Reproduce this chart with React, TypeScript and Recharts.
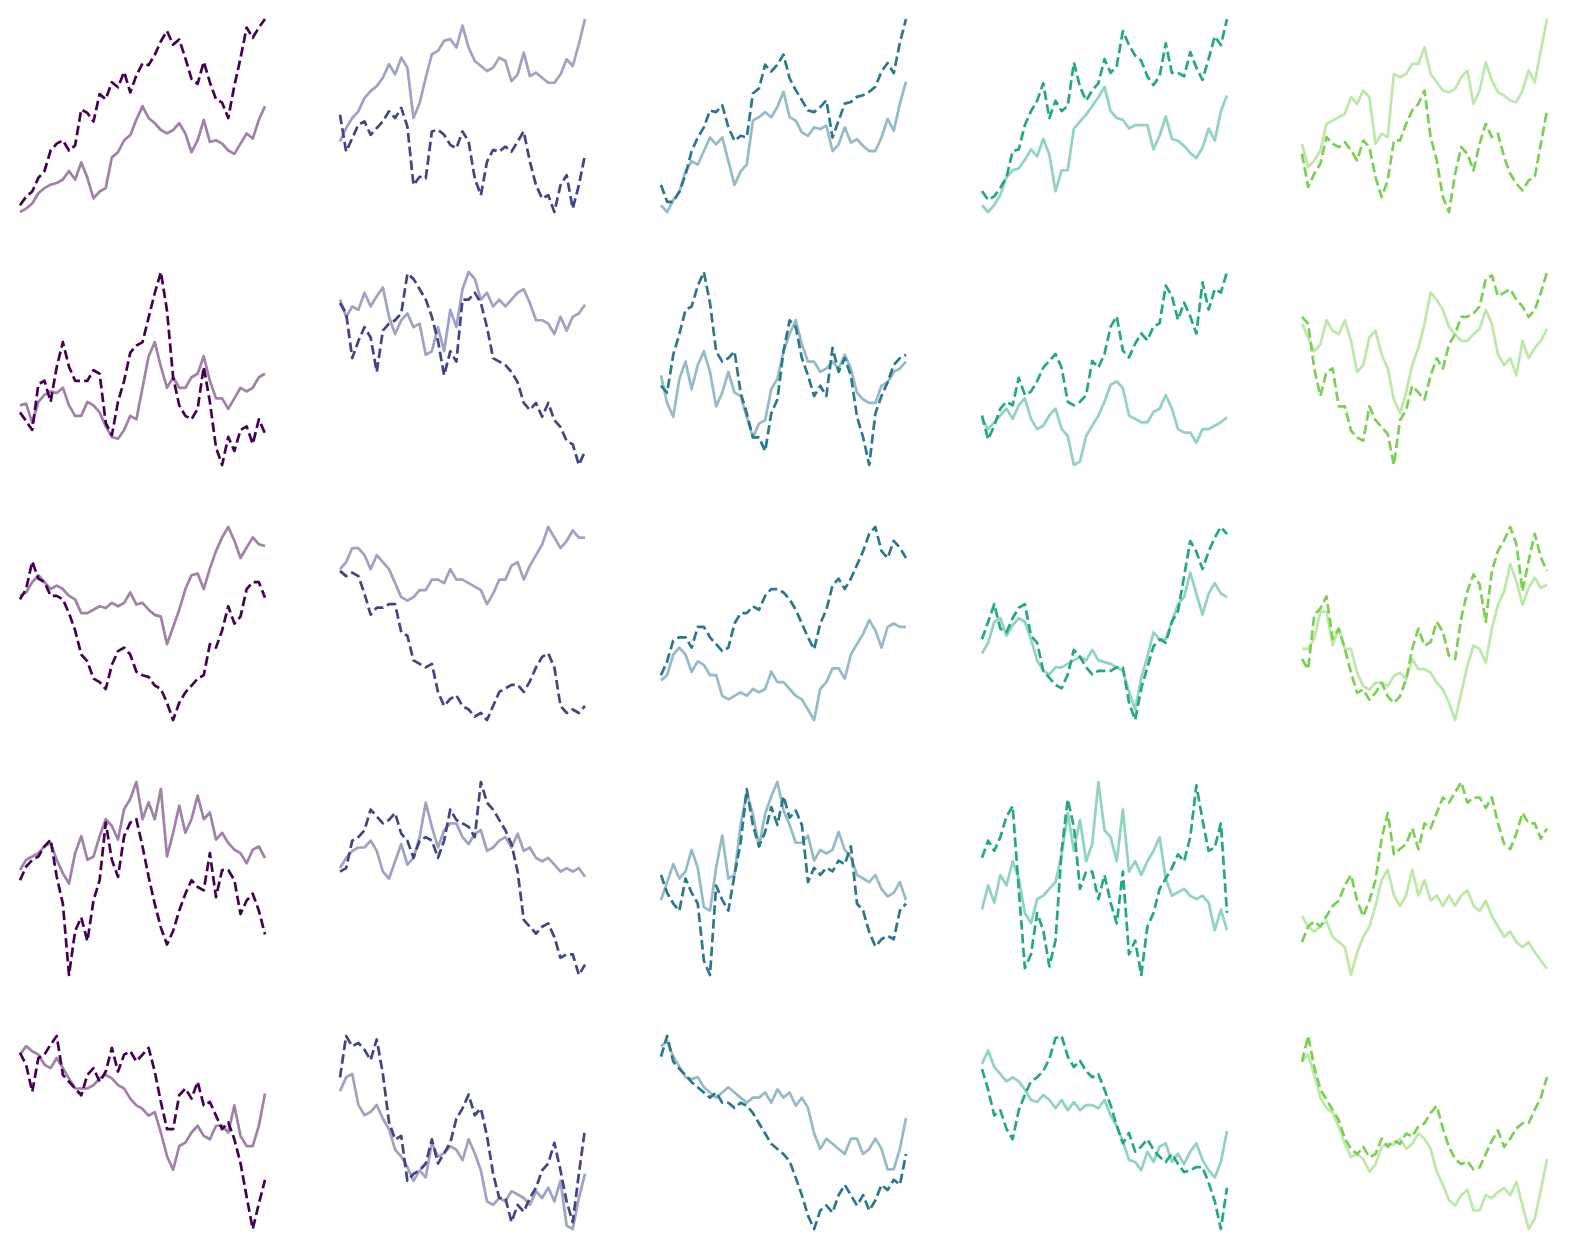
import React from 'react';
import { LineChart, Line, XAxis, YAxis } from 'recharts';

// ---- data: 5x5 panels, each with a solid (light) and dashed (dark) walk ----
const p11Solid = [40, 50, 65, 95, 110, 120, 125, 135, 160, 135, 185, 140, 80, 100, 110, 200, 215, 250, 265, 310, 350, 315, 300, 280, 270, 280, 300, 270, 215, 250, 310, 245, 250, 240, 220, 210, 240, 270, 255, 310, 350];
const p11Dashed = [60, 85, 100, 140, 160, 220, 240, 250, 220, 235, 340, 330, 305, 385, 370, 420, 405, 450, 390, 440, 475, 470, 500, 540, 570, 530, 545, 490, 430, 415, 480, 420, 370, 360, 315, 410, 490, 580, 550, 580, 605];
const p12Solid = [250, 290, 320, 340, 380, 400, 415, 440, 480, 450, 500, 470, 320, 365, 440, 510, 520, 550, 555, 530, 595, 530, 490, 475, 460, 470, 500, 490, 430, 450, 515, 445, 455, 440, 425, 425, 450, 495, 475, 540, 615];
const p12Dashed = [330, 220, 260, 300, 310, 270, 290, 310, 340, 320, 350, 295, 120, 145, 140, 280, 285, 270, 240, 230, 280, 250, 140, 90, 190, 225, 220, 235, 220, 250, 280, 190, 120, 80, 90, 40, 120, 150, 50, 120, 210];
const p13Solid = [60, 40, 75, 100, 160, 190, 180, 220, 260, 240, 260, 190, 120, 160, 180, 310, 320, 335, 320, 350, 395, 320, 310, 275, 265, 290, 285, 295, 220, 240, 290, 245, 255, 235, 220, 220, 260, 315, 280, 360, 425];
const p13Dashed = [120, 70, 70, 100, 150, 220, 260, 290, 340, 335, 355, 290, 250, 265, 260, 390, 405, 475, 455, 475, 505, 435, 400, 370, 340, 335, 350, 370, 260, 310, 360, 365, 380, 385, 395, 410, 455, 480, 450, 540, 610];
const p14Solid = [70, 50, 70, 100, 150, 170, 175, 200, 230, 210, 260, 215, 110, 170, 170, 290, 310, 330, 355, 380, 410, 340, 320, 315, 290, 300, 300, 300, 230, 270, 325, 260, 255, 240, 220, 205, 235, 290, 255, 340, 385];
const p14Dashed = [110, 85, 95, 120, 150, 225, 230, 300, 340, 370, 420, 320, 370, 340, 355, 480, 410, 370, 400, 420, 490, 450, 470, 570, 530, 500, 485, 440, 415, 440, 535, 450, 450, 440, 510, 465, 430, 490, 555, 530, 605];
const p15Solid = [240, 170, 190, 220, 300, 310, 320, 330, 380, 360, 400, 380, 240, 270, 260, 450, 440, 450, 480, 480, 530, 450, 425, 400, 395, 405, 440, 460, 360, 400, 485, 430, 395, 385, 370, 365, 400, 460, 425, 520, 615];
const p15Dashed = [210, 110, 150, 180, 260, 240, 230, 245, 220, 190, 250, 230, 140, 80, 130, 250, 250, 300, 340, 360, 400, 260, 190, 80, 35, 150, 230, 210, 160, 240, 300, 260, 270, 200, 150, 120, 100, 130, 140, 240, 340];

const p21Solid = [210, 215, 160, 220, 240, 250, 245, 260, 210, 180, 180, 220, 210, 190, 150, 120, 115, 140, 180, 170, 260, 350, 390, 320, 260, 290, 260, 260, 290, 300, 350, 280, 230, 230, 200, 230, 260, 250, 260, 290, 300];
const p21Dashed = [190, 165, 140, 270, 280, 220, 320, 390, 320, 280, 280, 280, 310, 300, 160, 125, 220, 280, 360, 380, 390, 460, 530, 590, 480, 290, 210, 180, 170, 200, 320, 220, 90, 40, 120, 80, 140, 150, 100, 170, 130];
const p22Solid = [520, 470, 500, 490, 540, 500, 530, 555, 470, 420, 460, 480, 440, 450, 360, 370, 440, 370, 490, 440, 550, 600, 580, 520, 540, 500, 520, 500, 520, 540, 550, 510, 460, 460, 450, 420, 470, 430, 470, 480, 505];
const p22Dashed = [510, 480, 350, 400, 440, 410, 310, 430, 450, 460, 480, 595, 580, 550, 520, 470, 400, 300, 370, 340, 520, 520, 540, 510, 440, 350, 340, 330, 310, 280, 220, 200, 220, 180, 220, 170, 150, 110, 100, 40, 80];
const p23Solid = [300, 220, 180, 290, 340, 260, 330, 370, 310, 210, 250, 310, 250, 240, 180, 120, 160, 170, 260, 290, 370, 420, 460, 390, 340, 340, 310, 320, 340, 320, 360, 320, 250, 230, 220, 220, 270, 280, 310, 320, 340];
const p23Dashed = [270, 250, 360, 420, 490, 500, 560, 600, 510, 370, 340, 350, 370, 250, 190, 120, 120, 80, 190, 230, 370, 460, 440, 350, 300, 240, 270, 240, 380, 310, 350, 300, 180, 120, 40, 190, 240, 280, 330, 350, 360];
const p24Solid = [170, 140, 160, 180, 200, 170, 210, 230, 170, 140, 150, 180, 200, 140, 120, 35, 45, 120, 150, 180, 220, 270, 280, 260, 180, 170, 160, 160, 190, 200, 240, 200, 140, 130, 130, 100, 140, 140, 150, 160, 175];
const p24Dashed = [180, 110, 150, 200, 220, 210, 290, 240, 250, 280, 320, 340, 360, 320, 220, 210, 220, 240, 340, 320, 360, 440, 470, 370, 350, 390, 420, 400, 440, 450, 560, 530, 460, 510, 470, 420, 570, 490, 550, 540, 600];
const p25Solid = [440, 400, 360, 380, 450, 420, 410, 450, 390, 300, 320, 400, 420, 350, 310, 220, 180, 240, 320, 370, 440, 530, 510, 480, 430, 410, 390, 390, 410, 425, 480, 440, 350, 320, 340, 290, 390, 340, 370, 390, 425];
const p25Dashed = [460, 440, 310, 230, 300, 310, 200, 200, 130, 110, 100, 200, 160, 140, 120, 30, 160, 190, 260, 240, 220, 290, 340, 310, 380, 410, 460, 460, 470, 490, 570, 580, 520, 530, 540, 510, 490, 460, 480, 530, 590];

const p31Solid = [400, 410, 440, 460, 440, 420, 430, 420, 400, 390, 350, 350, 360, 370, 365, 380, 370, 380, 410, 375, 380, 360, 345, 340, 260, 310, 360, 420, 460, 465, 420, 480, 530, 570, 600, 560, 510, 540, 570, 550, 545];
const p31Dashed = [390, 420, 500, 450, 440, 400, 400, 390, 350, 300, 230, 210, 160, 150, 130, 200, 240, 250, 230, 180, 170, 165, 140, 130, 90, 40, 90, 120, 140, 160, 170, 260, 250, 300, 370, 320, 340, 420, 440, 440, 395];
const p32Solid = [470, 490, 530, 530, 510, 470, 510, 490, 470, 430, 390, 380, 390, 410, 410, 440, 440, 430, 470, 440, 440, 430, 420, 410, 370, 400, 440, 440, 480, 490, 440, 480, 510, 540, 590, 560, 530, 550, 580, 560, 560];
const p32Dashed = [465, 450, 460, 450, 400, 340, 360, 360, 370, 370, 290, 280, 210, 200, 190, 200, 120, 80, 100, 110, 80, 70, 50, 60, 40, 80, 120, 130, 140, 140, 120, 150, 190, 220, 230, 190, 80, 60, 70, 60, 80];
const p33Solid = [145, 160, 220, 240, 220, 170, 200, 190, 160, 160, 100, 90, 100, 110, 100, 120, 110, 120, 170, 140, 140, 120, 100, 90, 60, 30, 120, 140, 180, 180, 150, 220, 250, 280, 320, 290, 240, 300, 310, 300, 300];
const p33Dashed = [160, 200, 260, 270, 270, 240, 300, 300, 270, 250, 230, 240, 310, 340, 340, 360, 350, 390, 410, 410, 400, 380, 350, 310, 270, 235, 310, 350, 420, 440, 410, 440, 480, 520, 570, 590, 520, 500, 550, 530, 500];
const p34Solid = [220, 250, 310, 320, 270, 300, 320, 310, 260, 200, 170, 160, 180, 180, 190, 200, 210, 200, 230, 200, 195, 190, 180, 170, 110, 60, 150, 210, 280, 260, 260, 310, 360, 380, 450, 390, 330, 390, 420, 390, 380];
const p34Dashed = [260, 310, 360, 290, 280, 320, 350, 360, 270, 250, 170, 150, 130, 120, 160, 230, 210, 180, 160, 170, 170, 170, 180, 180, 80, 30, 120, 180, 240, 260, 250, 310, 340, 440, 540, 510, 460, 510, 550, 580, 560];
const p35Solid = [240, 240, 270, 350, 350, 250, 300, 240, 240, 170, 130, 120, 140, 140, 130, 160, 170, 150, 210, 180, 180, 170, 140, 120, 80, 30, 110, 190, 250, 240, 200, 300, 370, 410, 490, 440, 370, 420, 450, 420, 430];
const p35Dashed = [210, 180, 340, 360, 395, 270, 300, 240, 170, 110, 120, 90, 110, 140, 100, 80, 100, 150, 240, 300, 250, 260, 320, 290, 220, 210, 330, 410, 460, 430, 320, 470, 530, 560, 600, 550, 410, 500, 580, 510, 470];

const p41Solid = [340, 370, 380, 390, 410, 420, 370, 330, 300, 390, 440, 370, 380, 440, 490, 470, 430, 520, 550, 600, 490, 540, 490, 580, 380, 450, 530, 450, 490, 560, 490, 510, 430, 450, 420, 400, 390, 360, 400, 410, 375];
const p41Dashed = [310, 350, 370, 380, 410, 430, 320, 240, 30, 160, 200, 130, 250, 310, 480, 370, 320, 440, 480, 490, 410, 320, 240, 170, 120, 160, 220, 270, 310, 290, 280, 390, 260, 340, 340, 310, 210, 250, 270, 220, 150];
const p42Solid = [350, 380, 400, 410, 410, 430, 400, 340, 320, 370, 420, 360, 380, 440, 540, 470, 410, 460, 480, 480, 440, 420, 450, 460, 400, 410, 430, 440, 410, 450, 400, 410, 380, 370, 380, 360, 340, 350, 340, 350, 325];
const p42Dashed = [340, 350, 430, 440, 460, 520, 500, 480, 490, 510, 450, 430, 380, 430, 440, 430, 380, 430, 520, 490, 480, 470, 440, 600, 540, 520, 490, 460, 420, 340, 200, 180, 160, 180, 190, 150, 90, 100, 100, 40, 70];
const p43Solid = [250, 300, 350, 310, 330, 390, 340, 230, 220, 340, 430, 310, 320, 460, 550, 490, 400, 490, 540, 580, 500, 460, 410, 410, 430, 360, 390, 380, 390, 440, 390, 370, 320, 310, 300, 320, 280, 260, 270, 300, 250];
const p43Dashed = [320, 270, 240, 220, 310, 270, 240, 80, 40, 290, 250, 220, 320, 410, 560, 460, 400, 440, 510, 460, 540, 480, 500, 460, 300, 340, 320, 340, 330, 360, 350, 400, 240, 220, 160, 120, 140, 150, 140, 220, 240];
const p44Solid = [230, 300, 250, 330, 300, 370, 320, 220, 190, 260, 270, 290, 310, 390, 510, 400, 490, 370, 420, 600, 460, 440, 370, 520, 340, 370, 330, 370, 400, 440, 320, 270, 280, 290, 270, 260, 270, 250, 170, 230, 170];
const p44Dashed = [380, 430, 400, 440, 500, 530, 290, 60, 100, 220, 170, 65, 140, 400, 550, 470, 290, 340, 340, 260, 330, 250, 190, 340, 100, 140, 40, 180, 220, 290, 320, 350, 390, 370, 440, 590, 490, 400, 410, 480, 220];
const p45Solid = [61, 51, 46, 51, 56, 41, 36, 31, 4, 26, 41, 51, 71, 96, 106, 81, 71, 81, 106, 81, 96, 76, 81, 71, 81, 71, 81, 86, 71, 66, 76, 61, 51, 41, 46, 36, 31, 36, 26, 18, 10];
const p45Dashed = [36, 51, 56, 51, 61, 71, 76, 91, 101, 76, 61, 76, 96, 136, 161, 121, 126, 131, 146, 126, 151, 146, 161, 176, 171, 181, 191, 171, 176, 176, 166, 176, 151, 131, 126, 141, 161, 151, 151, 136, 146];

const p51Solid = [540, 565, 550, 540, 510, 500, 530, 500, 470, 440, 440, 440, 450, 470, 480, 470, 450, 440, 410, 390, 380, 360, 370, 310, 240, 200, 270, 280, 310, 330, 300, 290, 330, 330, 310, 390, 300, 270, 270, 330, 425];
const p51Dashed = [545, 510, 430, 530, 540, 570, 595, 480, 460, 440, 420, 480, 500, 460, 490, 560, 490, 540, 550, 520, 540, 560, 490, 400, 320, 320, 420, 440, 410, 460, 390, 400, 360, 320, 340, 290, 220, 120, 25, 100, 170];
const p52Solid = [430, 470, 480, 390, 360, 370, 390, 350, 320, 260, 240, 210, 170, 200, 180, 280, 240, 250, 270, 260, 230, 290, 250, 200, 110, 100, 120, 110, 140, 130, 120, 100, 140, 120, 150, 110, 170, 40, 30, 120, 190];
const p52Dashed = [470, 590, 560, 570, 550, 520, 580, 480, 340, 290, 300, 170, 190, 200, 220, 290, 220, 250, 280, 350, 380, 420, 360, 380, 300, 190, 120, 120, 50, 100, 80, 120, 150, 200, 220, 280, 200, 110, 50, 190, 320];
const p53Solid = [180, 185, 170, 160, 150, 148, 150, 140, 135, 130, 135, 140, 135, 130, 125, 130, 130, 135, 125, 138, 130, 135, 122, 130, 120, 95, 80, 90, 85, 80, 75, 90, 90, 75, 80, 90, 80, 60, 60, 80, 110];
const p53Dashed = [170, 190, 165, 158, 152, 145, 140, 135, 130, 135, 125, 125, 120, 125, 122, 115, 105, 95, 85, 80, 75, 68, 52, 35, 15, 2, 20, 25, 18, 35, 45, 35, 25, 35, 20, 30, 45, 40, 50, 45, 75];
const p54Solid = [165, 178, 162, 155, 148, 152, 148, 140, 130, 128, 135, 130, 122, 130, 120, 128, 120, 125, 125, 122, 130, 115, 105, 90, 72, 70, 62, 80, 70, 85, 88, 70, 78, 68, 80, 88, 72, 62, 55, 70, 100];
const p54Dashed = [160, 140, 115, 120, 102, 92, 120, 135, 148, 152, 158, 170, 190, 192, 172, 162, 168, 158, 152, 155, 140, 125, 105, 88, 98, 80, 85, 92, 82, 75, 70, 78, 68, 60, 62, 65, 65, 50, 32, 5, 45];
const p55Solid = [165, 172, 152, 130, 120, 115, 102, 85, 72, 75, 70, 58, 65, 82, 85, 84, 90, 80, 85, 95, 90, 80, 58, 45, 30, 25, 35, 40, 20, 20, 35, 32, 38, 42, 35, 48, 25, 2, 12, 40, 70];
const p55Dashed = [165, 190, 160, 138, 128, 118, 108, 90, 80, 75, 82, 72, 75, 90, 82, 88, 85, 95, 92, 102, 105, 115, 122, 100, 82, 70, 65, 68, 60, 62, 75, 88, 98, 82, 90, 100, 105, 105, 118, 130, 150];

const PANELS: [number[], number[]][][] = [
  [[p11Solid, p11Dashed], [p12Solid, p12Dashed], [p13Solid, p13Dashed], [p14Solid, p14Dashed], [p15Solid, p15Dashed]],
  [[p21Solid, p21Dashed], [p22Solid, p22Dashed], [p23Solid, p23Dashed], [p24Solid, p24Dashed], [p25Solid, p25Dashed]],
  [[p31Solid, p31Dashed], [p32Solid, p32Dashed], [p33Solid, p33Dashed], [p34Solid, p34Dashed], [p35Solid, p35Dashed]],
  [[p41Solid, p41Dashed], [p42Solid, p42Dashed], [p43Solid, p43Dashed], [p44Solid, p44Dashed], [p45Solid, p45Dashed]],
  [[p51Solid, p51Dashed], [p52Solid, p52Dashed], [p53Solid, p53Dashed], [p54Solid, p54Dashed], [p55Solid, p55Dashed]],
];

// ---- layout & style ----
const COLORS = ['#440154', '#414487', '#2a788e', '#22a884', '#7ad151'];
const COL_LEFT = [20, 340, 661, 982, 1302];
const ROW_TOP = [19, 272, 527, 782, 1036];
const PANEL_W = 245;
const PANEL_H = 193;
const PAD = 4;
const LINE_W = 2.7;
const DASH = '9.6 4.2';

function Panel({ solid, dashed, color, left, top }: { solid: number[]; dashed: number[]; color: string; left: number; top: number }) {
  const n = Math.max(solid.length, dashed.length);
  const data = Array.from({ length: n }, (_, i) => ({ i, solid: solid[i], dashed: dashed[i] }));
  return (
    <div style={{ position: 'absolute', left: left - PAD, top: top - PAD }}>
      <LineChart width={PANEL_W + 2 * PAD} height={PANEL_H + 2 * PAD} data={data} margin={{ top: PAD, right: PAD, bottom: PAD, left: PAD }}>
        <XAxis dataKey="i" type="number" domain={['dataMin', 'dataMax']} hide />
        <YAxis type="number" domain={['dataMin', 'dataMax']} hide />
        <Line type="linear" dataKey="solid" stroke={color} strokeOpacity={0.5} strokeWidth={LINE_W} strokeLinejoin="round" dot={false} activeDot={false} isAnimationActive={false} />
        <Line type="linear" dataKey="dashed" stroke={color} strokeWidth={LINE_W} strokeDasharray={DASH} strokeLinejoin="round" dot={false} activeDot={false} isAnimationActive={false} />
      </LineChart>
    </div>
  );
}

export default function App() {
  return (
    <div style={{ position: 'absolute', left: 0, top: 0, width: 1570, height: 1252, background: '#ffffff', overflow: 'hidden' }}>
      {PANELS.map((row, r) =>
        row.map(([solid, dashed], c) => (
          <Panel key={`${r}-${c}`} solid={solid} dashed={dashed} color={COLORS[c]} left={COL_LEFT[c]} top={ROW_TOP[r]} />
        ))
      )}
    </div>
  );
}
